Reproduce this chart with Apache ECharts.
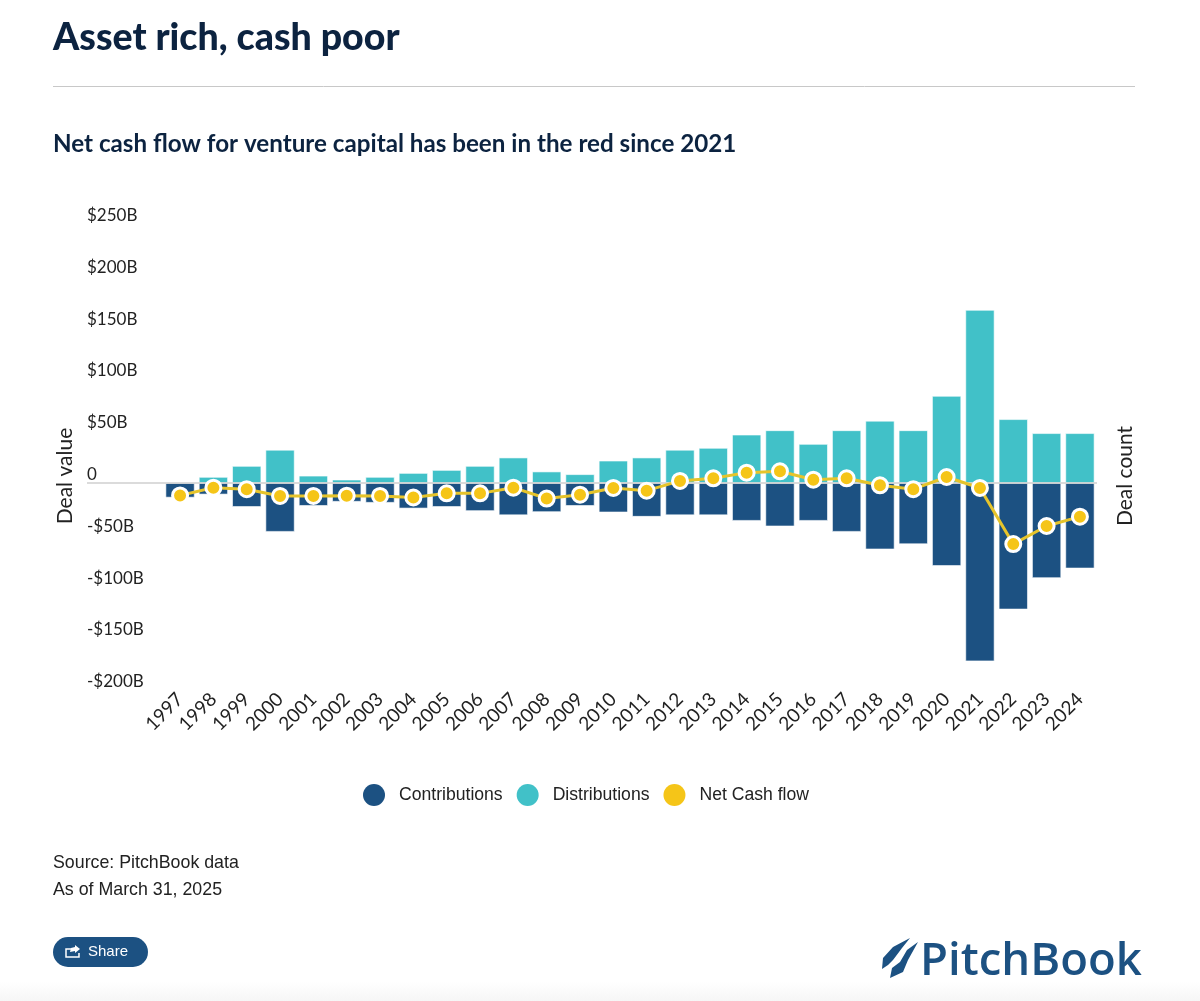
<!DOCTYPE html>
<html><head><meta charset="utf-8">
<style>html,body{margin:0;padding:0;background:#fff}#c{width:1200px;height:1001px}</style>
<script src="https://cdn.jsdelivr.net/npm/echarts@6/dist/echarts.min.js"></script>
</head><body><div id="c"></div>
<script>
const years=['1997','1998','1999','2000','2001','2002','2003','2004','2005','2006','2007','2008','2009','2010','2011','2012','2013','2014','2015','2016','2017','2018','2019','2020','2021','2022','2023','2024'];
const contributions=[-14,-11,-23,-47,-22,-18,-19,-24.5,-23,-27,-31,-28,-22,-28.3,-32.5,-31,-31,-36.4,-41.8,-36.4,-47,-64,-59,-80,-172,-122,-91.7,-82.4];
const distributions=[0.5,5.8,16.4,32,7,3.2,5.8,9.6,12.5,16.4,24.5,11,8.4,21.5,24.5,32,33.8,46.6,50.8,37.6,50.8,60,50.8,84,167,61.5,48,48];
const netCashFlow=[-12,-4.5,-6,-12.5,-12.5,-12.2,-12.5,-14,-10,-10,-4.5,-15,-11.3,-4.8,-7.4,2,4.5,10,11.3,3.2,4.5,-2.2,-6,5.8,-4.8,-59,-41.5,-32.5];
const yTicks={min:-200,max:250,step:50};
const titleText='Asset rich, cash poor';
const subtitleText='Net cash flow for venture capital has been in the red since 2021';

const NAVY='#1c5182',TEAL='#41c1c8',YEL='#f5c518',INK='#0c2340',TXT='#222';
const axisFont='Lato';
const chart=echarts.init(document.getElementById('c'),null,{renderer:'canvas'});
const option={
  animation:false,backgroundColor:'#fff',
  title:[
    {text:titleText,left:48,top:14,textStyle:{fontFamily:'Lato',fontWeight:900,fontSize:37.5,color:INK}},
    {text:subtitleText,left:48,top:127,textStyle:{fontFamily:'Lato',fontWeight:700,fontSize:24.2,color:INK}}
  ],
  legend:{
    left:358,top:779,itemWidth:22,itemHeight:22,itemGap:14,icon:'circle',
    textStyle:{fontFamily:'Liberation Sans',fontSize:17.6,color:TXT,padding:[0,0,0,9]},
    data:[
      {name:'Contributions',itemStyle:{color:NAVY,borderWidth:0}},
      {name:'Distributions',itemStyle:{color:TEAL,borderWidth:0}},
      {name:'Net Cash flow',itemStyle:{color:YEL,borderWidth:0}}
    ]
  },
  grid:{left:163.4,top:224,width:933.2,height:466.2,containLabel:false},
  xAxis:{type:'category',data:years,
    axisLine:{show:false,onZero:false},axisTick:{show:false},
    axisLabel:{rotate:45,interval:0,margin:6,padding:[7,0,0,0],fontFamily:axisFont,fontSize:19,color:TXT}},
  yAxis:{type:'value',min:yTicks.min,max:yTicks.max,interval:yTicks.step,
    splitLine:{show:false},axisLine:{show:false},axisTick:{show:false},
    axisLabel:{align:'left',margin:76.4,verticalAlign:'bottom',padding:[0,0,0,0],fontFamily:axisFont,fontSize:17,color:TXT,
      formatter:v=>v===0?'0':(v<0?'-$'+(-v)+'B':'$'+v+'B')}},
  series:[
    {name:'Contributions',type:'bar',stack:'flow',data:contributions,barWidth:29,z:1,
      itemStyle:{color:NAVY,borderColor:'#fff',borderWidth:0.6}},
    {name:'Distributions',type:'bar',stack:'flow',data:distributions,barWidth:29,z:1,
      itemStyle:{color:TEAL,borderColor:'#fff',borderWidth:0.6}},
    {name:'Net Cash flow',type:'line',data:netCashFlow,z:3,symbol:'circle',symbolSize:15,showSymbol:true,
      lineStyle:{color:'#e6c42b',width:3},
      itemStyle:{color:YEL,borderColor:'#fff',borderWidth:3}}
  ],
  graphic:[]
};
chart.setOption(option);
const zeroY=chart.convertToPixel({yAxisIndex:0},0);
chart.setOption({graphic:[
  {type:'rect',z:0,shape:{x:0,y:982,width:1200,height:19},style:{fill:new echarts.graphic.LinearGradient(0,0,0,1,[{offset:0,color:'#ffffff'},{offset:1,color:'#f6f6f6'}])}},
  {type:'line',z:2,shape:{x1:87,y1:zeroY,x2:1097,y2:zeroY},style:{stroke:'#cfcfcf',lineWidth:1.5}},
  {type:'line',z:0,shape:{x1:53,y1:86.5,x2:1135,y2:86.5},style:{stroke:'#c8c8c8',lineWidth:1}},
  {type:'text',x:65,y:476,rotation:Math.PI/2,style:{text:'Deal value',font:'21px Lato',fill:TXT,align:'center',verticalAlign:'middle'}},
  {type:'text',x:1125,y:476,rotation:Math.PI/2,style:{text:'Deal count',font:'21px Lato',fill:TXT,align:'center',verticalAlign:'middle'}},
  {type:'text',x:53,y:854,style:{text:'Source: PitchBook data',font:'17.8px "Liberation Sans"',fill:'#222'}},
  {type:'text',x:53,y:881,style:{text:'As of March 31, 2025',font:'17.8px "Liberation Sans"',fill:'#222'}},
  {type:'rect',shape:{x:53,y:937,width:95,height:30,r:15},style:{fill:NAVY}},
  {type:'polyline',shape:{points:[[73,949],[66,949],[66,957],[79,957],[79,953]]},style:{stroke:'#fff',lineWidth:1.5,fill:null}},
  {type:'polygon',shape:{points:[[75,945],[80,949],[75,953],[75,951],[70,952],[71,948],[75,947]]},style:{fill:'#fff'}},
  {type:'text',x:88,y:944,style:{text:'Share',font:'15px "Liberation Sans"',fill:'#fff'}},
  {type:'polygon',shape:{points:[[882,969],[883,958],[893,947],[910,938],[902,948],[893,960],[888,965]]},style:{fill:NAVY}},
  {type:'polygon',shape:{points:[[918,942],[907,950],[900,962],[892,968],[890,978],[903,972],[908,960]]},style:{fill:NAVY}},
  {type:'text',x:920,y:939,style:{text:'PitchBook',font:'600 45.5px "Open Sans"',fill:NAVY}}
]});
</script></body></html>
